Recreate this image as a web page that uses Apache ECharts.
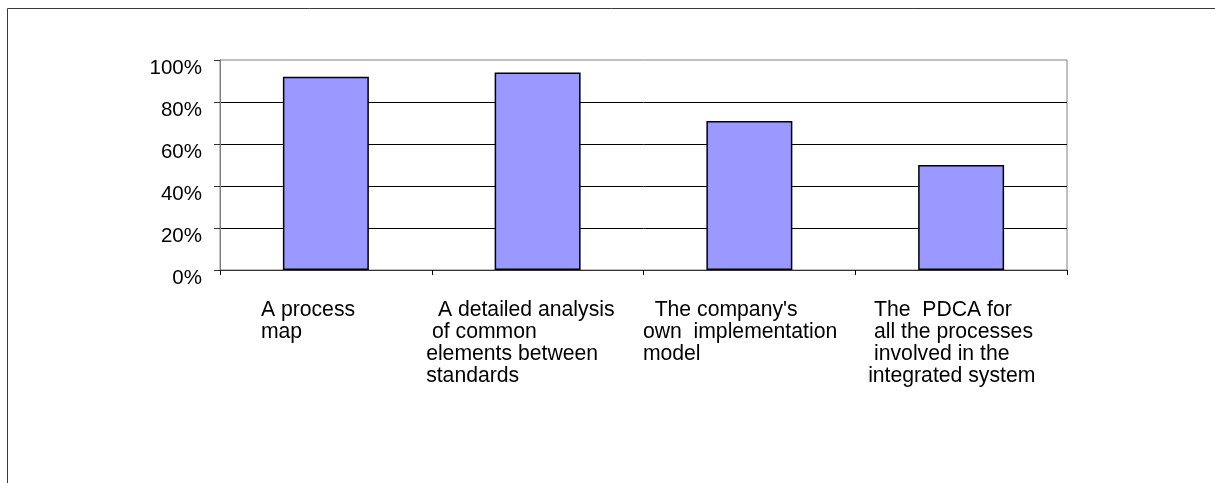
<!DOCTYPE html>
<html>
<head>
<meta charset="utf-8">
<script src="https://cdn.jsdelivr.net/npm/echarts@6/dist/echarts.min.js"></script>
<style>
  html, body { margin: 0; padding: 0; background: #fff; }
  #chart { width: 1215px; height: 483px; }
</style>
</head>
<body>
<div id="chart"></div>
<script>
// Category labels, one entry per line (leading spaces kept as written)
const categoryLines = [
  ['A process', 'map'],
  ['  A detailed analysis', ' of common', 'elements between', 'standards'],
  ['  The company\'s', 'own  implementation', 'model'],
  [' The  PDCA for', ' all the processes', ' involved in the', 'integrated system']
];
// Share of respondents per item (%)
const values = [92, 94, 71, 50];
// Value axis ticks
const yTicks = [0, 20, 40, 60, 80, 100];

// Width of each label block (lines are left-aligned inside it)
const labelBlockWidths = [130, 223, 213, 186];

const FONT = '"Liberation Sans", Arial, sans-serif';

const chart = echarts.init(document.getElementById('chart'), null, { renderer: 'canvas' });

chart.setOption({
  animation: false,
  backgroundColor: '#ffffff',
  graphic: [{
    type: 'rect',
    z: -10,
    shape: { x: 7.5, y: 8.5, width: 1400, height: 700 },
    style: { fill: 'none', stroke: '#3a3a3a', lineWidth: 1 },
    silent: true
  }],
  grid: {
    left: 220, right: 148, top: 60, bottom: 213,
    show: true,
    borderColor: '#808080',
    borderWidth: 1,
    containLabel: false,
    outerBoundsMode: 'none'
  },
  xAxis: {
    type: 'category',
    data: categoryLines.map((lines, i) => ({
      value: lines.join('\n'),
      textStyle: { width: labelBlockWidths[i] }
    })),
    boundaryGap: true,
    axisLine: { show: true, lineStyle: { color: '#333', width: 1 } },
    axisTick: { show: true, length: 5, alignWithLabel: false, lineStyle: { color: '#000' } },
    axisLabel: {
      interval: 0,
      margin: 29,
      hideOverlap: false,
      formatter: (v) => v.split('\n').map(l => '{l|' + l + '}').join('\n'),
      rich: {
        l: { align: 'left', fontSize: 21.2, lineHeight: 22, fontFamily: FONT, color: '#000' }
      }
    },
    splitLine: { show: false }
  },
  yAxis: {
    type: 'value',
    min: yTicks[0],
    max: yTicks[yTicks.length - 1],
    interval: yTicks[1] - yTicks[0],
    axisLine: { show: true, lineStyle: { color: '#808080', width: 1 } },
    axisTick: { show: true, length: 6, lineStyle: { color: '#333' } },
    axisLabel: {
      formatter: '{v|{value}%}',
      margin: 18,
      rich: {
        v: { fontSize: 20.5, fontFamily: FONT, color: '#000', padding: [16, 0, 0, 0] }
      }
    },
    splitLine: {
      show: true,
      showMaxLine: false,
      lineStyle: { color: '#000', width: 1 }
    }
  },
  series: [{
    type: 'bar',
    data: values,
    barWidth: '40.6%',
    itemStyle: { color: '#9999FF', borderColor: '#000', borderWidth: 1.5 },
    label: { show: false }
  }]
});
</script>
</body>
</html>
